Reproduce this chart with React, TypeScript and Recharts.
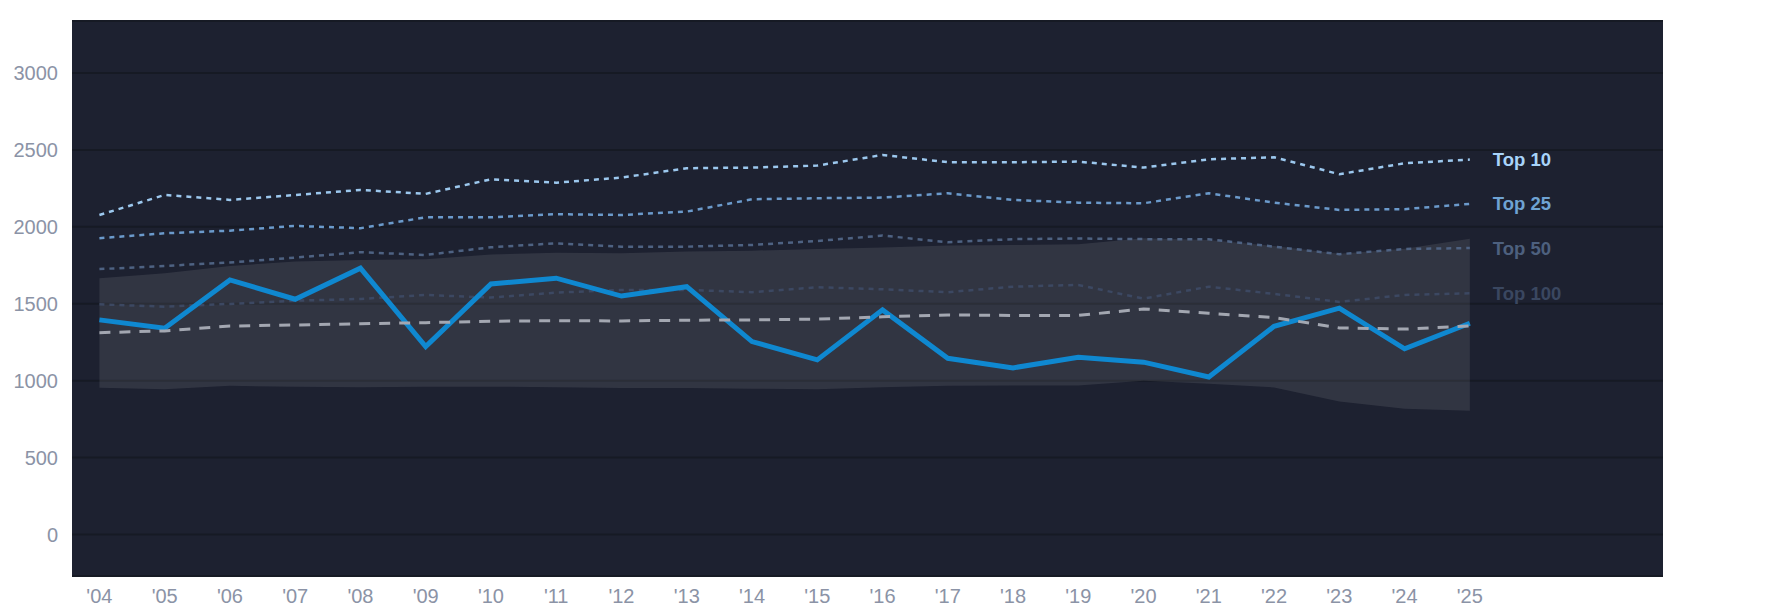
import { Area, CartesianGrid, ComposedChart, Line, XAxis, YAxis } from "recharts";

const years = [
  2004, 2005, 2006, 2007, 2008, 2009, 2010, 2011, 2012, 2013, 2014, 2015, 2016,
  2017, 2018, 2019, 2020, 2021, 2022, 2023, 2024, 2025,
];

const score = [
  1395, 1341, 1655, 1529, 1731, 1221, 1629, 1666, 1550, 1611, 1254, 1135, 1460,
  1145, 1083, 1152, 1120, 1024, 1353, 1471, 1207, 1373,
];

const median = [
  1312, 1323, 1355, 1362, 1370, 1377, 1386, 1390, 1388, 1393, 1395, 1400, 1415,
  1427, 1424, 1424, 1466, 1438, 1410, 1343, 1335, 1356,
];

const top10 = [
  2077, 2207, 2175, 2207, 2240, 2214, 2309, 2287, 2320, 2381, 2385, 2398, 2467,
  2420, 2420, 2424, 2385, 2439, 2452, 2342, 2413, 2437,
];

const top25 = [
  1926, 1958, 1975, 2006, 1991, 2062, 2062, 2082, 2077, 2099, 2179, 2186, 2190,
  2218, 2175, 2157, 2153, 2218, 2157, 2110, 2115, 2149,
];

const top50 = [
  1725, 1746, 1768, 1800, 1835, 1817, 1867, 1893, 1871, 1871, 1882, 1908, 1943,
  1900, 1920, 1924, 1920, 1919, 1871, 1822, 1856, 1862,
];

const top100 = [
  1496, 1481, 1499, 1520, 1531, 1557, 1540, 1572, 1590, 1590, 1575, 1607, 1594,
  1575, 1611, 1622, 1533, 1611, 1564, 1512, 1557, 1568,
];

const bandHigh = [
  1666, 1698, 1746, 1774, 1785, 1789, 1820, 1832, 1828, 1839, 1845, 1856, 1865,
  1878, 1882, 1887, 1925, 1915, 1875, 1825, 1858, 1922,
];

const bandLow = [
  954, 944, 966, 961, 957, 961, 961, 957, 952, 952, 948, 944, 957, 966, 968,
  968, 1000, 979, 956, 864, 818, 805,
];

const yTicks = [0, 500, 1000, 1500, 2000, 2500, 3000];

const tierLines = [
  { key: "top100", label: "Top 100", stroke: "#3c4862", text: "#3a4760" },
  { key: "top50", label: "Top 50", stroke: "#4e6282", text: "#4d607e" },
  { key: "top25", label: "Top 25", stroke: "#6b9acb", text: "#6fa3d3" },
  { key: "top10", label: "Top 10", stroke: "#9cc8ee", text: "#a8d4fa" },
];

const data = years.map((year, i) => ({
  year,
  score: score[i],
  median: median[i],
  top10: top10[i],
  top25: top25[i],
  top50: top50[i],
  top100: top100[i],
  band: [bandLow[i], bandHigh[i]],
}));

const font = "'Liberation Sans', Arial, sans-serif";

function endLabel(text: string, color: string) {
  return (props: any) => {
    if (props.index !== years.length - 1) return null;
    return (
      <text
        x={props.x + 23}
        y={props.y}
        dominantBaseline="central"
        fill={color}
        fontSize={18.5}
        fontWeight="bold"
        fontFamily={font}
      >
        {text}
      </text>
    );
  };
}

export default function App() {
  return (
    <ComposedChart
      width={1769}
      height={598}
      data={data}
      margin={{ top: 13, right: 114, bottom: 0, left: 0 }}
      style={{ fontFamily: font }}
    >
      <CartesianGrid vertical={false} fill="#1d2130" stroke="#161a24" strokeWidth={2} />
      <XAxis
        dataKey="year"
        type="number"
        domain={[2003.58, 2027.96]}
        allowDataOverflow
        ticks={years}
        interval={0}
        tickFormatter={(y) => "'" + String(y).slice(2)}
        axisLine={false}
        tickLine={false}
        tickSize={6}
        tickMargin={7}
        height={30}
        tick={{ fill: "#8b93a6", fontSize: 20 }}
      />
      <YAxis
        type="number"
        domain={[-270, 3338]}
        allowDataOverflow
        ticks={yTicks}
        axisLine={false}
        tickLine={false}
        tickSize={6}
        tickMargin={8}
        width={64}
        tick={{ fill: "#8b93a6", fontSize: 20 }}
      />
      <Area
        dataKey="band"
        type="linear"
        fill="#ffffff"
        fillOpacity={0.09}
        stroke="none"
        isAnimationActive={false}
      />
      {tierLines.map((t) => (
        <Line
          key={t.key}
          dataKey={t.key}
          type="linear"
          stroke={t.stroke}
          strokeWidth={2.5}
          strokeDasharray="5 5"
          dot={false}
          activeDot={false}
          label={endLabel(t.label, t.text)}
          isAnimationActive={false}
        />
      ))}
      <Line
        dataKey="score"
        type="linear"
        stroke="#0f88d0"
        strokeWidth={5}
        dot={false}
        activeDot={false}
        isAnimationActive={false}
      />
      <Line
        dataKey="median"
        type="linear"
        stroke="#a3a7b1"
        strokeWidth={3}
        strokeDasharray="11 9"
        dot={false}
        activeDot={false}
        isAnimationActive={false}
      />
    </ComposedChart>
  );
}
